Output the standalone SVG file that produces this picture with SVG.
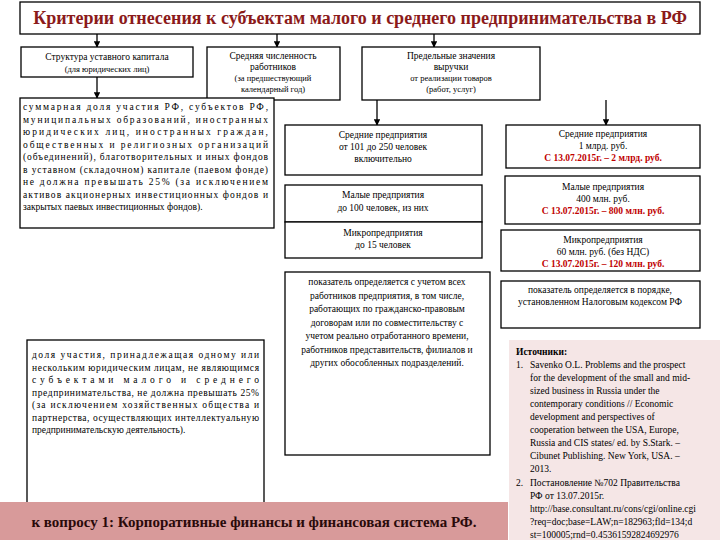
<svg xmlns="http://www.w3.org/2000/svg" width="720" height="540" viewBox="0 0 720 540" font-family="Liberation Serif, Times New Roman, serif">
<defs>
<marker id="ah" viewBox="0 0 10 10" refX="9" refY="5" markerWidth="5" markerHeight="5" orient="auto"><path d="M0,0L10,5L0,10z" fill="#000"/></marker>
<style>
.b{fill:#fff;stroke:#000;stroke-width:1.3}
text{font-family:'Liberation Serif','Times New Roman',serif;font-size:9.5px;fill:#000}
.c{text-anchor:middle}
.r{fill:#c00000}
.j{font-size:9.5px}
.cn line{stroke:#000;stroke-width:1.3;marker-end:url(#ah)}
</style>
</defs>
<rect width="720" height="540" fill="#fff"/>
<g id="title"><rect class="b" x="20" y="2" width="680" height="32"/><text x="360" y="24" class="c" style="font-size:18px;font-weight:bold;fill:#8b1a1a">Критерии отнесения к субъектам малого и среднего предпринимательства в РФ</text></g>
<g class="cn" id="connectors">
<line x1="97" y1="34" x2="97" y2="47"/><line x1="277" y1="34" x2="277" y2="47"/><line x1="434" y1="34" x2="434" y2="47"/>
<line x1="97" y1="77" x2="97" y2="98"/><line x1="377" y1="100" x2="377" y2="125"/><line x1="606" y1="100" x2="606" y2="125"/>
</g>
<g id="nA"><rect class="b" x="21" y="47" width="172" height="30"/><text x="107" y="60" class="c">Структура уставного капитала</text><text x="107" y="72" class="c" style="font-size:8.5px">(для юридических лиц)</text></g>
<g id="nB"><rect class="b" x="207" y="47" width="133" height="53"/><text x="273" y="59" class="c">Средняя численность</text><text x="273" y="70" class="c">работников</text><text x="273" y="81" class="c" style="font-size:8.5px">(за предшествующий</text><text x="273" y="92" class="c" style="font-size:8.5px">календарный год)</text></g>
<g id="nC"><rect class="b" x="362" y="47" width="178" height="53"/><text x="451" y="59" class="c">Предельные значения</text><text x="451" y="70" class="c">выручки</text><text x="451" y="81" class="c" style="font-size:8.5px">от реализации товаров</text><text x="451" y="92" class="c" style="font-size:8.5px">(работ, услуг)</text></g>
<g id="nD"><rect class="b" x="20" y="98" width="254" height="130"/>
<text class="j" x="23" y="110" textLength="245" lengthAdjust="spacing">суммарная доля участия РФ, субъектов РФ,</text>
<text class="j" x="23" y="122.5" textLength="245" lengthAdjust="spacing">муниципальных образований, иностранных</text>
<text class="j" x="23" y="135" textLength="245" lengthAdjust="spacing">юридических лиц, иностранных граждан,</text>
<text class="j" x="23" y="147.5" textLength="245" lengthAdjust="spacing">общественных и религиозных организаций</text>
<text class="j" x="23" y="160" textLength="245" lengthAdjust="spacing">(объединений), благотворительных и иных фондов</text>
<text class="j" x="23" y="172.5" textLength="245" lengthAdjust="spacing">в уставном (складочном) капитале (паевом фонде)</text>
<text class="j" x="23" y="185" textLength="245" lengthAdjust="spacing">не должна превышать 25% (за исключением</text>
<text class="j" x="23" y="197.5" textLength="245" lengthAdjust="spacing">активов акционерных инвестиционных фондов и</text>
<text class="j" x="23" y="210">закрытых паевых инвестиционных фондов).</text></g>
<g id="nE"><rect class="b" x="27" y="340" width="237" height="165"/>
<text class="j" x="32" y="358" textLength="227" lengthAdjust="spacing">доля участия, принадлежащая одному или</text>
<text class="j" x="32" y="370.5" textLength="227" lengthAdjust="spacing">нескольким юридическим лицам, не являющимся</text>
<text class="j" x="32" y="383" textLength="227" lengthAdjust="spacing">субъектами малого и среднего</text>
<text class="j" x="32" y="395.5" textLength="227" lengthAdjust="spacing">предпринимательства, не должна превышать 25%</text>
<text class="j" x="32" y="408" textLength="227" lengthAdjust="spacing">(за исключением хозяйственных общества и</text>
<text class="j" x="32" y="420.5" textLength="227" lengthAdjust="spacing">партнерства, осуществляющих интеллектуальную</text>
<text class="j" x="32" y="433">предпринимательскую деятельность).</text></g>
<g id="nB1"><rect class="b" x="285" y="125" width="197" height="50"/><text x="383" y="138" class="c">Средние предприятия</text><text x="383" y="150" class="c">от 101 до 250 человек</text><text x="383" y="162" class="c">включительно</text></g>
<g id="nB2"><rect class="b" x="285" y="185" width="197" height="37"/><text x="383" y="198" class="c">Малые предприятия</text><text x="383" y="211" class="c">до 100 человек, из них</text></g>
<g id="nB3"><rect class="b" x="285" y="222" width="197" height="36"/><text x="383" y="236" class="c">Микропредприятия</text><text x="383" y="248" class="c">до 15 человек</text></g>
<g id="nB4"><rect class="b" x="285" y="272" width="205" height="183"/>
<text x="387" y="285" class="c j">показатель определяется с учетом всех</text>
<text x="387" y="298.5" class="c j">работников предприятия, в том числе,</text>
<text x="387" y="312" class="c j">работающих по гражданско-правовым</text>
<text x="387" y="325.5" class="c j">договорам или по совместительству с</text>
<text x="387" y="339" class="c j">учетом реально отработанного времени,</text>
<text x="387" y="352.5" class="c j">работников представительств, филиалов и</text>
<text x="387" y="366" class="c j">других обособленных подразделений.</text></g>
<g id="nC1"><rect class="b" x="506" y="125" width="194" height="43"/><text x="603" y="137" class="c">Средние предприятия</text><text x="603" y="149" class="c">1 млрд. руб.</text><text x="603" y="161" class="c r" style="font-weight:bold">С 13.07.2015г. – 2  млрд. руб.</text></g>
<g id="nC2"><rect class="b" x="505" y="176" width="195" height="48"/><text x="603" y="190" class="c">Малые предприятия</text><text x="603" y="202" class="c">400 млн. руб.</text><text x="603" y="214" class="c r" style="font-weight:bold">С 13.07.2015г. – 800 млн. руб.</text></g>
<g id="nC3"><rect class="b" x="501" y="230" width="199" height="41"/><text x="603" y="243" class="c">Микропредприятия</text><text x="603" y="255" class="c">60 млн. руб. (без НДС)</text><text x="603" y="267" class="c r" style="font-weight:bold">С 13.07.2015г. – 120 млн. руб.</text></g>
<g id="nC4"><rect class="b" x="501" y="281" width="199" height="47"/><text x="600" y="293" class="c j">показатель определяется в порядке,</text><text x="600" y="305" class="c j">установленном Налоговым кодексом РФ</text></g>
<g id="sources"><rect x="509" y="340" width="211" height="200" fill="#f5e6e6"/>
<text x="516" y="355" style="font-weight:bold;font-size:9.5px">Источники:</text>
<g>
<text x="516" y="368">1.</text><text x="530" y="368">Savenko O.L. Problems and the prospect</text>
<text x="530" y="381">for the development of the small and mid-</text>
<text x="530" y="394">sized business in Russia under the</text>
<text x="530" y="407">contemporary conditions // Economic</text>
<text x="530" y="420">development and perspectives of</text>
<text x="530" y="433">cooperation between the USA, Europe,</text>
<text x="530" y="446">Russia and CIS states/ ed. by S.Stark. –</text>
<text x="530" y="459">Cibunet Publishing. New York, USA. –</text>
<text x="530" y="472">2013.</text>
<text x="516" y="486">2.</text><text x="530" y="486">Постановление №702 Правительства</text>
<text x="530" y="499">РФ от 13.07.2015г.</text>
<text x="530" y="512">http://base.consultant.ru/cons/cgi/online.cgi</text>
<text x="530" y="525">?req=doc;base=LAW;n=182963;fld=134;d</text>
<text x="530" y="538">st=100005;rnd=0.45361592824692976</text>
</g></g>
<g id="banner"><rect x="0" y="502" width="508" height="38" fill="#d89a9a"/><text x="254" y="527" class="c" style="font-size:15px;font-weight:bold;fill:#2a0a0a">к вопросу 1:  Корпоративные финансы и финансовая система РФ.</text></g>
</svg>
